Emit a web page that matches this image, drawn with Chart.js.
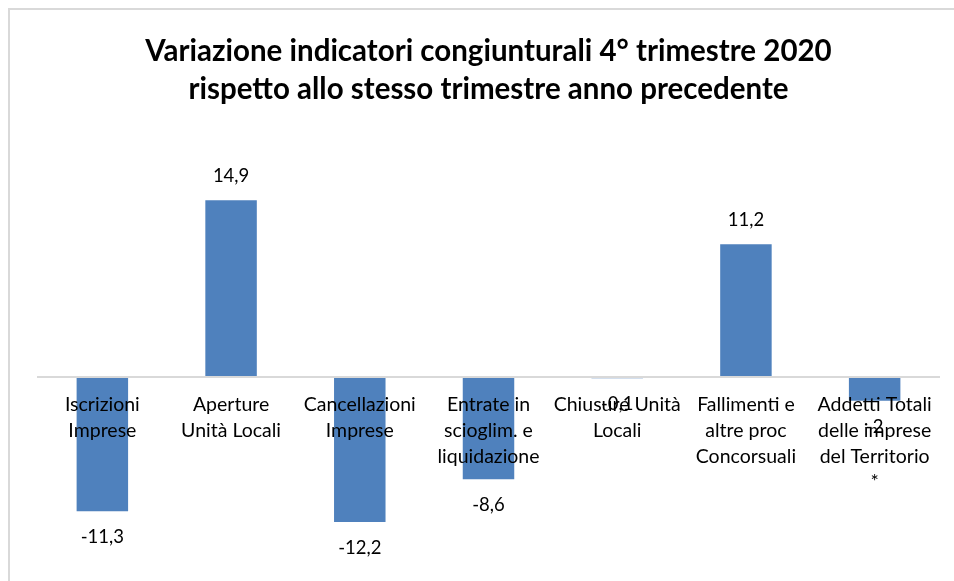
<!DOCTYPE html>
<html>
<head>
<meta charset="utf-8">
<script src="https://cdn.jsdelivr.net/npm/chart.js@4.4.0/dist/chart.umd.min.js"></script>
<style>
  html, body { margin: 0; padding: 0; background: #fff; overflow: hidden; }
  #wrap {
    position: absolute; left: 8px; top: 8px;
    width: 944px; height: 571px;
    border-top: 2px solid #d9d9d9; border-left: 2px solid #d9d9d9;
  }
</style>
</head>
<body>
<div id="wrap"><canvas id="myChart" width="944" height="571"></canvas></div>
<script>
const titleLines = ['Variazione indicatori congiunturali 4° trimestre 2020', 'rispetto allo stesso trimestre anno precedente'];

const categories = [
    ['Iscrizioni', 'Imprese'],
    ['Aperture', 'Unità Locali'],
    ['Cancellazioni', 'Imprese'],
    ['Entrate in', 'scioglim. e', 'liquidazione'],
    ['Chiusure Unità', 'Locali'],
    ['Fallimenti e', 'altre proc', 'Concorsuali'],
    ['Addetti Totali', 'delle imprese', 'del Territorio', '*']
];

const variazioni = [-11.3, 14.9, -12.2, -8.6, -0.1, 11.2, -2];

const yMin = -16;
const yMax = 18;

const barColor = '#4F81BD';

// etichette dei valori sopra/sotto le barre
const valueLabels = {
    id: 'valueLabels',
    afterDatasetsDraw(chart) {
        const c = chart.ctx;
        const meta = chart.getDatasetMeta(0);
        c.save();
        c.font = '18.5px Lato';
        c.fillStyle = '#000';
        c.textAlign = 'center';
        c.textBaseline = 'middle';
        meta.data.forEach((bar, i) => {
            const v = variazioni[i];
            const txt = String(v).replace('.', ',');
            const y = v >= 0 ? bar.y - 24 : bar.y + 26;
            c.fillText(txt, bar.x, y);
        });
        c.restore();
    }
};

const ctx = document.getElementById('myChart').getContext('2d');
const chart = new Chart(ctx, {
    type: 'bar',
    data: {
        labels: categories,
        datasets: [{
            data: variazioni,
            backgroundColor: barColor,
            borderWidth: 0,
            categoryPercentage: 1,
            barPercentage: 0.4
        }]
    },
    options: {
        responsive: false,
        animation: false,
        layout: {
            padding: { left: 28, right: 15, top: 0, bottom: 14 }
        },
        plugins: {
            legend: { display: false },
            tooltip: { enabled: false },
            title: {
                display: true,
                text: titleLines,
                color: '#000',
                font: { family: 'Lato', size: 29.5, weight: 'bold', lineHeight: 1.29 },
                padding: { top: 22, bottom: 55.3 }
            }
        },
        scales: {
            x: {
                position: { y: 0 },
                grid: { display: false, drawTicks: false },
                border: { display: true, color: '#d9d9d9', width: 2, z: 1 },
                ticks: {
                    z: 1,
                    color: '#000',
                    font: { family: 'Lato', size: 19.5, lineHeight: 1.32 },
                    padding: 15,
                    maxRotation: 0,
                    autoSkip: false
                }
            },
            y: {
                display: false,
                min: yMin,
                max: yMax
            }
        }
    },
    plugins: [valueLabels]
});
</script>
</body>
</html>
